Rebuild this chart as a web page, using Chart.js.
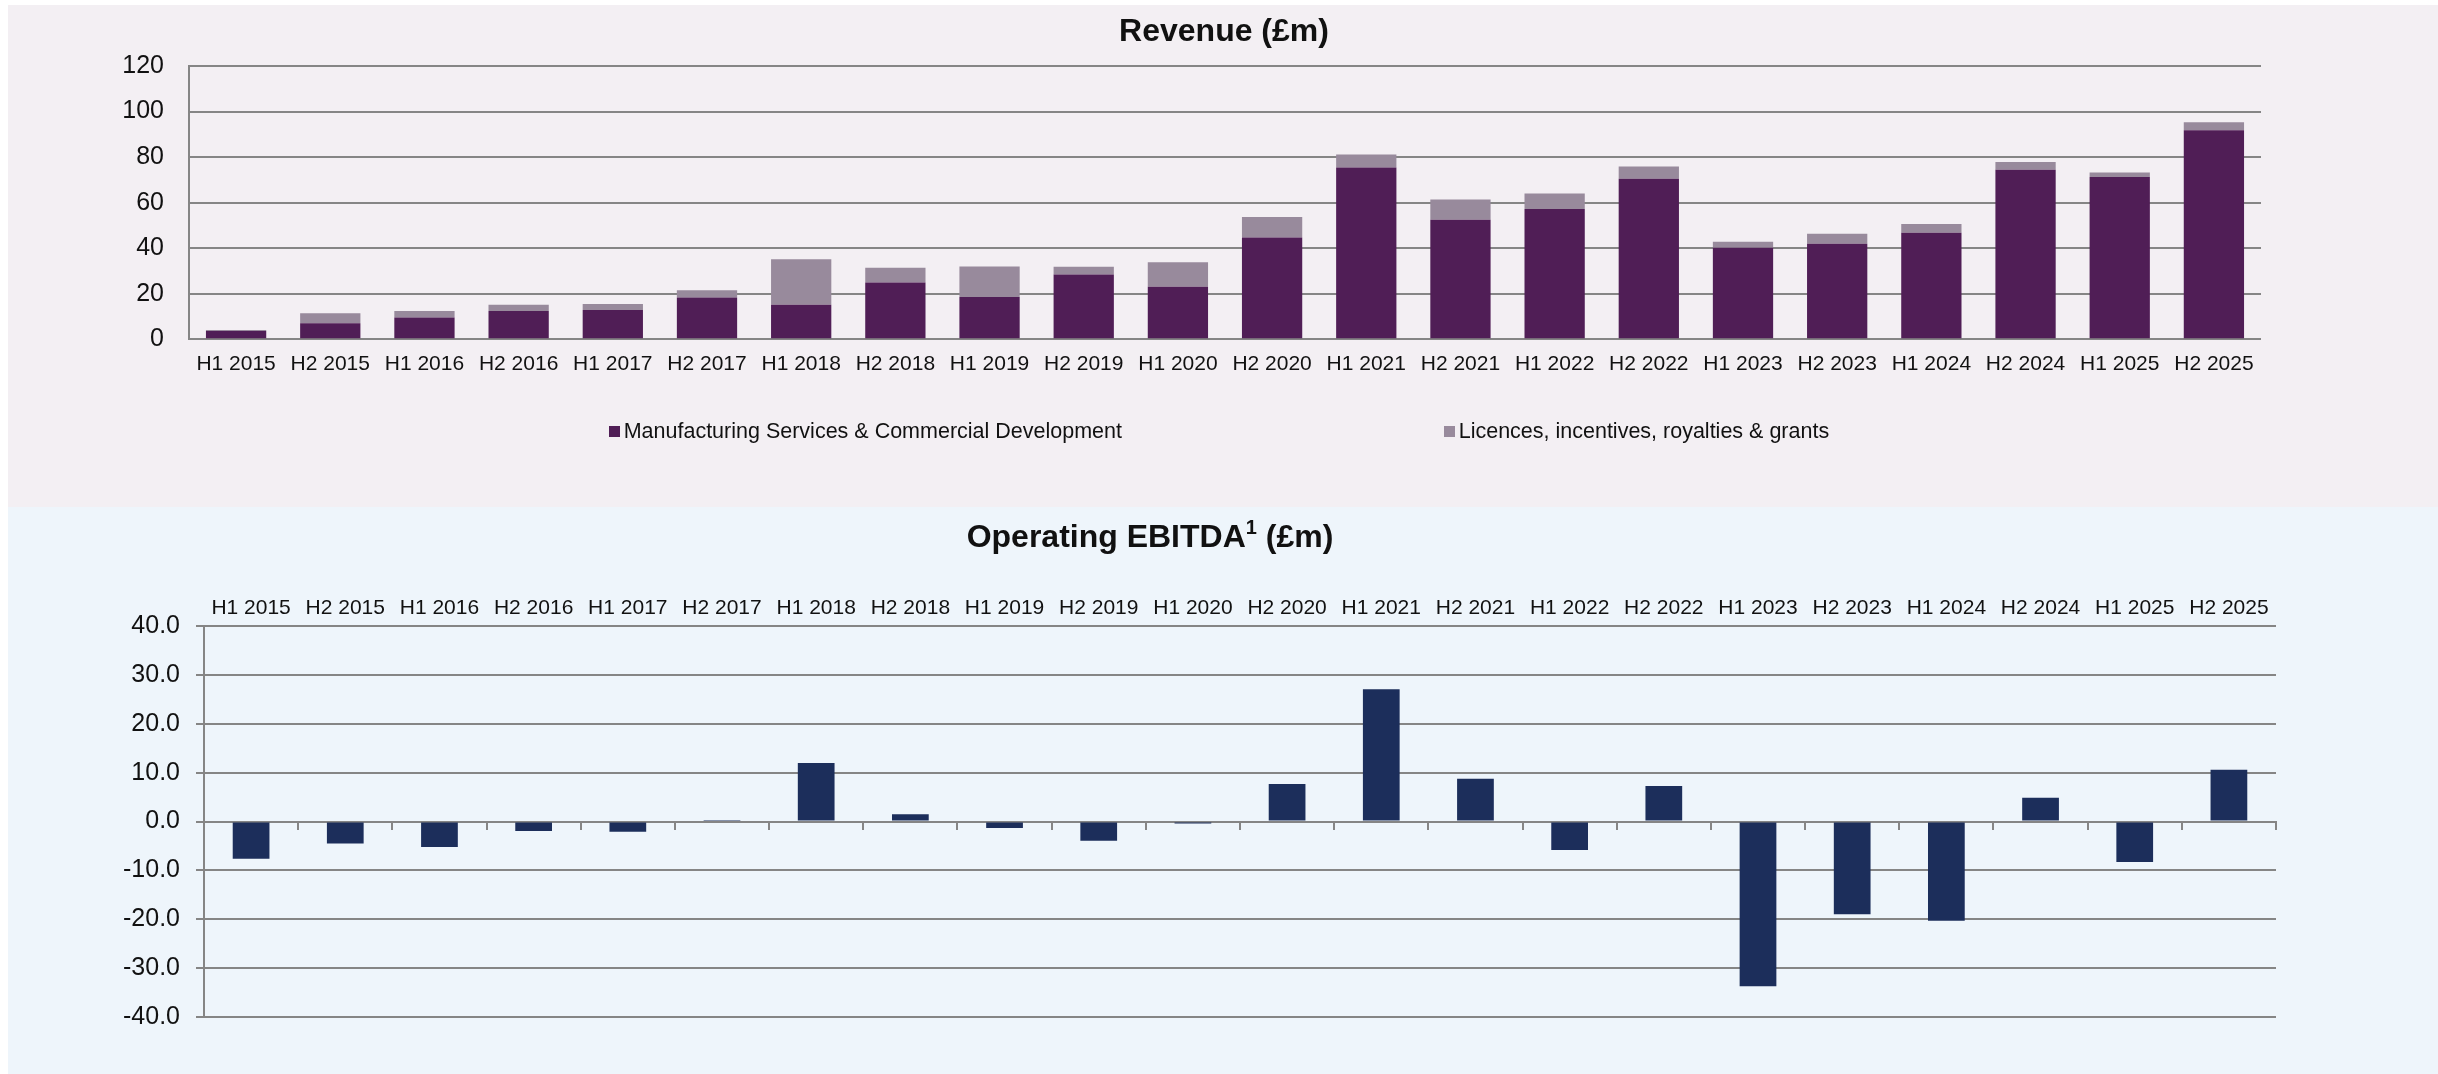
<!DOCTYPE html>
<html lang="en">
<head>
<meta charset="UTF-8">
<title>Revenue and Operating EBITDA (£m)</title>
<script src="https://cdn.jsdelivr.net/npm/chart.js"></script>
<style>
body {
margin: 0;
width: 2438px;
height: 1074px;
position: relative;
overflow: hidden;
background: #ffffff;
font-family: 'Liberation Sans', Arial, sans-serif;
color: #111111;
}
.panel {
position: absolute;
left: 8px;
width: 2430px;
}
#topPanel { top: 5px; height: 502px; background: #f3eff3; }
#bottomPanel { top: 507px; height: 567px; background: #eef5fb; }
.title {
position: absolute;
font-weight: bold;
font-size: 32px;
line-height: 32px;
white-space: nowrap;
transform: translateX(-50%);
z-index: 2;
}
.title sup { font-size: 20px; vertical-align: 13px; line-height: 0; }
.legend-item {
position: absolute;
font-size: 21.5px;
line-height: 21.5px;
white-space: nowrap;
padding-left: 15px;
z-index: 2;
}
.legend-item .box {
position: absolute;
left: 0;
top: 5px;
width: 11px;
height: 11px;
}
</style>
</head>
<body>
<div class="panel" id="topPanel"><canvas id="revenueChart"></canvas></div>
<div class="panel" id="bottomPanel"><canvas id="ebitdaChart"></canvas></div>

<div class="title" style="left:1224px; top:13.6px;">Revenue (£m)</div>
<div class="title" style="left:1150px; top:519.6px;">Operating EBITDA<sup>1</sup> (£m)</div>
<div id="legend"></div>

<script>
// half-year periods shared by both charts
const periods = [
  'H1 2015', 'H2 2015', 'H1 2016', 'H2 2016', 'H1 2017', 'H2 2017',
  'H1 2018', 'H2 2018', 'H1 2019', 'H2 2019', 'H1 2020', 'H2 2020',
  'H1 2021', 'H2 2021', 'H1 2022', 'H2 2022', 'H1 2023', 'H2 2023',
  'H1 2024', 'H2 2024', 'H1 2025', 'H2 2025'
];

// revenue split (£m)
const manufacturing = [3.6, 7.0, 9.6, 12.4, 12.9, 18.3, 15.2, 24.9, 18.6, 28.4, 23.1,
  44.7, 75.4, 52.5, 57.2, 70.5, 40.2, 42.0, 46.8, 74.4, 71.3, 91.8];
const licences = [0.5, 4.4, 2.8, 2.8, 2.6, 3.2, 20.0, 6.5, 13.4, 3.5, 10.7,
  9.0, 5.7, 8.9, 6.8, 5.4, 2.6, 4.3, 3.8, 3.5, 1.9, 3.5];

// operating EBITDA (£m)
const ebitda = [-7.6, -4.5, -5.2, -1.9, -2.1, 0.1, 12.0, 1.5, -1.3, -3.9, -0.4,
  7.7, 27.1, 8.8, -5.8, 7.3, -33.7, -19.0, -20.3, 4.9, -8.3, 10.6];

const revenueTicks = [0, 20, 40, 60, 80, 100, 120];
const ebitdaTicks = [-40, -30, -20, -10, 0, 10, 20, 30, 40];

const seriesNames = ['Manufacturing Services & Commercial Development', 'Licences, incentives, royalties & grants'];
const seriesColors = ['#501e56', '#988a9c'];
const ebitdaColor = '#1c2e5b';
const gridColor = '#858585';

Chart.defaults.font.family = "'Liberation Sans', Arial, sans-serif";
Chart.defaults.color = '#111111';
Chart.defaults.animation = false;

// Revenue stacked bars
new Chart(document.getElementById('revenueChart'), {
  type: 'bar',
  data: {
    labels: periods,
    datasets: [
      { label: seriesNames[0], data: manufacturing, backgroundColor: seriesColors[0] },
      { label: seriesNames[1], data: licences, backgroundColor: seriesColors[1] }
    ]
  },
  options: {
    responsive: true,
    maintainAspectRatio: false,
    layout: { padding: { top: 61, right: 177, bottom: 107.7, left: 0 } },
    datasets: { bar: { categoryPercentage: 1, barPercentage: 0.64 } },
    plugins: { legend: { display: false }, tooltip: { enabled: false } },
    scales: {
      x: {
        stacked: true,
        grid: { display: false },
        border: { display: false },
        ticks: { font: { size: 21 }, padding: 4, maxRotation: 0, autoSkip: false },
        afterFit: (axis) => { axis.height = 60; }
      },
      y: {
        stacked: true,
        min: revenueTicks[0],
        max: revenueTicks[revenueTicks.length - 1],
        afterBuildTicks: (axis) => { axis.ticks = revenueTicks.map(v => ({ value: v })); },
        grid: { color: gridColor, lineWidth: 2, drawTicks: false },
        border: { display: true, color: gridColor, width: 2 },
        ticks: { font: { size: 25 }, padding: 25 },
        afterFit: (axis) => { axis.width = 181; }
      }
    }
  }
});

// Operating EBITDA bars, labels on top, ticked zero line
new Chart(document.getElementById('ebitdaChart'), {
  type: 'bar',
  data: {
    labels: periods,
    datasets: [
      { label: 'Operating EBITDA', data: ebitda, backgroundColor: ebitdaColor }
    ]
  },
  options: {
    responsive: true,
    maintainAspectRatio: false,
    layout: { padding: { top: 79.3, right: 162, bottom: 57.1, left: 0 } },
    datasets: { bar: { categoryPercentage: 1, barPercentage: 0.39 } },
    plugins: { legend: { display: false }, tooltip: { enabled: false } },
    scales: {
      x: {
        position: 'top',
        grid: { display: false },
        border: { display: false },
        ticks: { font: { size: 21 }, padding: -3, maxRotation: 0, autoSkip: false },
        afterFit: (axis) => { axis.height = 40; }
      },
      zero: {
        type: 'category',
        axis: 'x',
        position: { y: 0 },
        offset: true,
        grid: { offset: true, drawOnChartArea: false, drawTicks: true, tickLength: 7, color: gridColor, lineWidth: 2 },
        border: { display: true, color: gridColor, width: 2 },
        ticks: { display: false }
      },
      y: {
        min: ebitdaTicks[0],
        max: ebitdaTicks[ebitdaTicks.length - 1],
        afterBuildTicks: (axis) => { axis.ticks = ebitdaTicks.map(v => ({ value: v })); },
        grid: { color: gridColor, lineWidth: 2, drawTicks: true, tickLength: 8 },
        border: { display: true, color: gridColor, width: 2 },
        ticks: { font: { size: 25 }, padding: 16, callback: (v) => Number(v).toFixed(1) },
        afterFit: (axis) => { axis.width = 196; }
      }
    }
  }
});

// legend for the revenue chart, spread like the original
const legendLeft = [608.7, 1443.7];
const legend = document.getElementById('legend');
seriesNames.forEach((name, i) => {
  const item = document.createElement('div');
  item.className = 'legend-item';
  item.style.left = legendLeft[i] + 'px';
  item.style.top = '421px';
  const box = document.createElement('span');
  box.className = 'box';
  box.style.background = seriesColors[i];
  item.appendChild(box);
  item.appendChild(document.createTextNode(name));
  legend.appendChild(item);
});
</script>
</body>
</html>
